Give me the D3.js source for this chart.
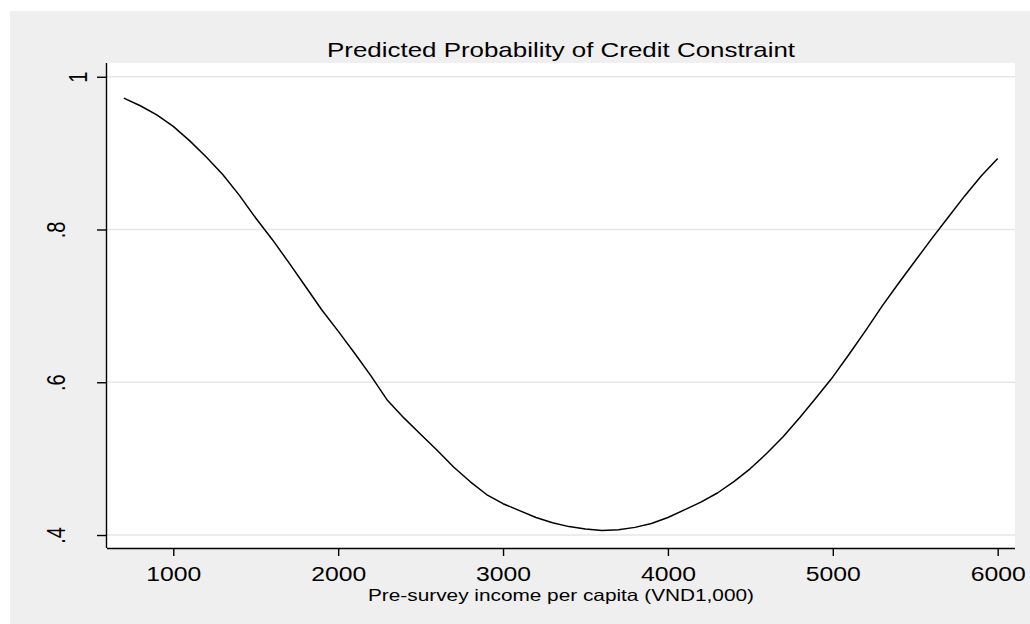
<!DOCTYPE html>
<html>
<head>
<meta charset="utf-8">
<script src="https://cdn.jsdelivr.net/npm/d3@7"></script>
<style>
  html, body { margin: 0; padding: 0; background: #ffffff; }
  svg { display: block; }
  text { font-family: "Liberation Sans", Arial, sans-serif; fill: #000; }
</style>
</head>
<body>
<svg id="chart" width="1030" height="624"></svg>
<script>
// Pre-survey income per capita (VND1,000)
const income = [700, 800, 900, 1000, 1100, 1200, 1300, 1400, 1500, 1600,
  1700, 1800, 1900, 2000, 2100, 2200, 2300, 2400, 2500, 2600,
  2700, 2800, 2900, 3000, 3100, 3200, 3300, 3400, 3500, 3600,
  3700, 3800, 3900, 4000, 4100, 4200, 4300, 4400, 4500, 4600,
  4700, 4800, 4900, 5000, 5100, 5200, 5300, 5400, 5500, 5600,
  5700, 5800, 5900, 6000];

// Predicted probability of being credit constrained
const probability = [0.972, 0.962, 0.950, 0.935, 0.916, 0.895, 0.872, 0.845, 0.815, 0.787,
  0.757, 0.726, 0.695, 0.667, 0.638, 0.608, 0.576, 0.553, 0.532, 0.511,
  0.489, 0.470, 0.453, 0.441, 0.432, 0.423, 0.416, 0.411, 0.408, 0.406,
  0.407, 0.410, 0.415, 0.423, 0.433, 0.443, 0.455, 0.470, 0.487, 0.507,
  0.529, 0.554, 0.580, 0.607, 0.637, 0.668, 0.700, 0.730, 0.759, 0.788,
  0.816, 0.844, 0.870, 0.893];

const xTicks = [1000, 2000, 3000, 4000, 5000, 6000];
const yTicks = [1, 0.8, 0.6, 0.4];
const yTickLabels = ["1", ".8", ".6", ".4"];

const titleText = "Predicted Probability of Credit Constraint";
const xTitleText = "Pre-survey income per capita (VND1,000)";

const svg = d3.select("#chart");

// frame
const plot = { left: 107, right: 1015, top: 63, bottom: 548 };

svg.append("rect")
  .attr("x", 10).attr("y", 11)
  .attr("width", 1020).attr("height", 613)
  .attr("fill", "#efefef");

svg.append("rect")
  .attr("x", plot.left).attr("y", plot.top)
  .attr("width", plot.right - plot.left).attr("height", plot.bottom - plot.top)
  .attr("fill", "#ffffff");

const x = d3.scaleLinear().domain([598, 6105]).range([plot.left, plot.right]);
const y = d3.scaleLinear().domain([0.383, 1.018]).range([plot.bottom, plot.top]);

// horizontal grid
svg.append("g")
  .selectAll("line")
  .data(yTicks)
  .join("line")
  .attr("x1", plot.left).attr("x2", plot.right)
  .attr("y1", d => y(d)).attr("y2", d => y(d))
  .attr("stroke", "#e6e6e6")
  .attr("stroke-width", 1.3);

// x axis
const xAxis = svg.append("g")
  .attr("transform", `translate(0,${plot.bottom})`)
  .call(d3.axisBottom(x).tickValues(xTicks).tickSize(8).tickSizeOuter(0).tickFormat(d3.format("d")));
xAxis.select(".domain").attr("stroke", "#000").attr("stroke-width", 1.4)
  .attr("d", `M${plot.left},0.5H${plot.right}`);
xAxis.selectAll(".tick line").attr("stroke", "#000").attr("stroke-width", 1.4);
xAxis.selectAll(".tick text")
  .attr("y", 33).attr("dy", 0)
  .attr("font-size", 20)
  .attr("font-family", "Liberation Sans, Arial, sans-serif")
  .attr("textLength", 55)
  .attr("lengthAdjust", "spacingAndGlyphs")
  .attr("fill", "#000");

// y axis
const yAxis = svg.append("g")
  .attr("transform", `translate(${plot.left},0)`)
  .call(d3.axisLeft(y).tickValues(yTicks).tickSize(10).tickSizeOuter(0)
    .tickFormat((d, i) => yTickLabels[i]));
yAxis.select(".domain").attr("stroke", "#000").attr("stroke-width", 1.4)
  .attr("d", `M-0.5,${plot.top}V${plot.bottom}`);
yAxis.selectAll(".tick line").attr("stroke", "#000").attr("stroke-width", 1.4);
const maxLen = d3.max(yTickLabels, s => s.length);
yAxis.selectAll(".tick text")
  .attr("x", null).attr("dy", null)
  .attr("text-anchor", "middle")
  .attr("font-size", 20)
  .attr("font-family", "Liberation Sans, Arial, sans-serif")
  .attr("fill", "#000")
  .attr("transform", (d, i) => {
    const base = -42 + (maxLen - yTickLabels[i].length) * 22;
    return `translate(${base},0) scale(1.27,1) rotate(-90)`;
  });

// fitted curve
const line = d3.line()
  .x((d, i) => x(income[i]))
  .y(d => y(d))
  .curve(d3.curveLinear);

svg.append("path")
  .datum(probability)
  .attr("d", line)
  .attr("fill", "none")
  .attr("stroke", "#000")
  .attr("stroke-width", 1.5)
  .attr("stroke-linejoin", "round");

// titles
svg.append("text")
  .attr("x", (plot.left + plot.right) / 2)
  .attr("y", 57)
  .attr("text-anchor", "middle")
  .attr("font-size", 21)
  .attr("textLength", 468)
  .attr("lengthAdjust", "spacingAndGlyphs")
  .text(titleText);

svg.append("text")
  .attr("x", (plot.left + plot.right) / 2)
  .attr("y", 600.5)
  .attr("text-anchor", "middle")
  .attr("font-size", 16.5)
  .attr("textLength", 386)
  .attr("lengthAdjust", "spacingAndGlyphs")
  .text(xTitleText);
</script>
</body>
</html>
